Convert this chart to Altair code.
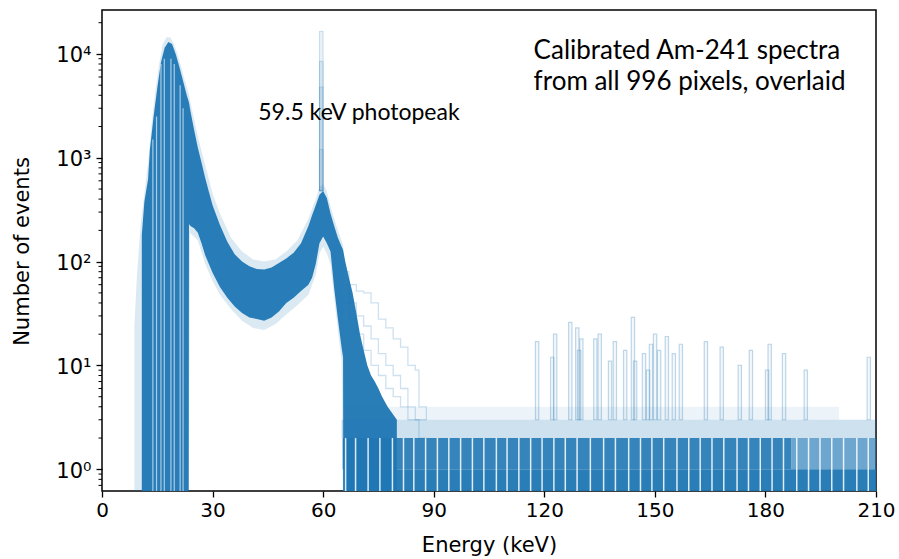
import altair as alt
import pandas as pd

FLOOR = 0.1  # an empty bin (zero counts): below the axis floor, clipped away

# ---------- dense core of the 996 overlaid spectra (keV, counts) ----------
core_E = [10.8, 11.5, 12.5, 13.0, 14.0, 15.0, 16.0, 17.0, 18.0, 19.0,
          20.0, 21.0, 22.0, 23.0, 23.5, 23.6, 24, 25, 26, 27,
          28, 29, 30, 32, 34, 36, 38, 40, 42, 44,
          46, 48, 50, 52, 54, 56, 57, 58, 59, 60,
          61, 62, 63, 64, 65, 65.4, 65.5, 66, 67, 68,
          69, 70, 71, 72, 73, 74, 75, 76, 77.5, 80]
core_hi = [180, 380, 620, 1200, 2500, 4700, 8300, 11500, 13000, 12500,
           10000, 7500, 5500, 4000, 3500, 3400, 2800, 1850, 1250, 900,
           640, 470, 350, 225, 155, 118, 100, 90, 85, 84,
           88, 97, 107, 122, 150, 220, 280, 350, 440, 480,
           410, 290, 220, 170, 140, 130, 125, 100, 70, 50,
           32, 20, 14, 10, 8, 7, 6, 5, 4, 3]
core_lo = [FLOOR] * 15 + [230, 220, 210, 190, 150,
           115, 95, 78, 57, 45, 37, 32, 29, 28, 27,
           29, 33, 40, 45, 52, 60, 70, 95, 150, 175,
           150, 125, 55, 28, 15, 12] + [FLOOR] * 14

# ---------- faint outer envelope (most deviant pixels) ----------
pale_E = [8.8, 9.5, 10.5, 11.5, 12.5, 13.5, 14.5, 15.5, 16.5, 17.5,
          18.5, 19.5, 20.5, 21.5, 22.5, 23.5, 23.9, 24.5, 26, 28,
          30, 32, 35, 38, 41, 44, 47, 50, 53, 56,
          58, 59, 60, 61, 62, 63, 64, 65, 65.5]
pale_hi = [25, 75, 230, 450, 900, 2200, 4500, 8000, 12500, 14500,
           14500, 12500, 10000, 7500, 5500, 4200, 3600, 2800, 1600, 850,
           450, 290, 170, 125, 105, 100, 105, 125, 160, 260,
           400, 520, 560, 480, 340, 260, 200, 160, 140]
pale_lo = [FLOOR] * 16 + [190, 180, 160, 95,
           65, 48, 35, 27, 23, 22, 25, 31, 38, 48,
           75, 120, 140, 120, 95, 45, 22, 11, FLOOR]

# ---------- faint individual tails beyond the photopeak ----------
tail_E = [65.5, 67, 69, 71, 73, 75, 77, 79, 81, 83, 85, 86, 88]
tail_a = [80, 60, 52, 50, 40, 28, 23, 18, 15, 10, 9, 4, 3]
tail_b = [60, 40, 30, 24, 18, 13, 10, 8, 6, 4, 3, 3, 3]
tail_c = [40, 28, 20, 14, 10, 8, 6, 5, 4, 3, 3, 2, 2]

# ---------- counting floor above 65 keV: bands of 0-1, 1-2, 2-3, 3-4 counts ----------
floor_E0 = [65.5, 65.3, 187, 65, 66]
floor_E1 = [210, 187, 210, 210, 200]
floor_lo = [FLOOR, 1, 1, 2, 3]
floor_hi = [1, 2, 2, 3, 4]
floor_opacity = [0.95, 0.9, 0.65, 0.22, 0.08]   # style of each band

# ---------- isolated high-energy outlier bins ----------
spike_E = [117.6, 121.7, 122.5, 126.6, 128.5, 129.0, 129.6, 133.4, 134.6, 137.4,
           138.7, 141.5, 143.6, 144.2, 146.6, 147.7, 148.5, 149.6, 150.7, 152.8,
           154.7, 156.6, 163.4, 167.7, 172.6, 175.6, 180.0, 180.7, 184.6, 190.5,
           207.6]
spike_n = [17, 12, 20, 26, 23, 14, 18, 18, 20, 11,
           17, 14, 29, 11, 13, 9, 16, 20, 14, 19,
           13, 16, 17, 15, 10, 14, 9, 16, 13, 9,
           12]

# ---------- narrow 59.5 keV photopeak bins of a few pixels ----------
peak_E = [59.0, 59.0, 59.0, 59.0]
peak_n = [16500, 8500, 4800, 1200]

# ---------- white gaps between bins ----------
gap_E = [66.1, 68.8, 72.2, 75.4, 78.8, 81.8, 84.6, 87.8, 91.0, 94.1, 97.3, 100.5,
         103.6, 107.0, 109.9, 113.1, 116.3, 119.4, 122.6, 125.7, 128.9, 132.5,
         136.1, 139.3, 142.9, 146.1, 149.2, 152.4, 156.0, 159.2, 162.3, 165.5,
         168.7, 172.3, 175.4, 178.6, 181.8, 184.9, 188.5, 191.7, 194.8, 198.0,
         201.2, 204.8, 207.9]
gapL_E = [13.8, 14.8, 16.0, 16.9, 18.7, 19.6, 21.2, 22.0]
gapL_top = [1500, 2500, 8000, 9000, 9000, 8000, 5000, 3000]

BLUE = "#1f77b4"
BIN = 0.9
y_major = [1, 10, 100, 1000, 10000]
y_minor = [m * 10.0 ** k for k in range(-1, 5) for m in range(2, 10)]
y_minor = [v for v in y_minor if 0.618 <= v <= 26500]

XS = alt.Scale(domain=[0, 210], nice=False, zero=False)
YS = alt.Scale(type="log", domain=[0.618, 26500], nice=False)

XAXIS = alt.Axis(
    title="Energy (keV)", values=[0, 30, 60, 90, 120, 150, 180, 210], grid=False,
    domain=False, tickSize=6, tickWidth=1.3, tickColor="black",
    labelFont="DejaVu Sans", labelFontSize=20, labelColor="black", labelPadding=3,
    labelFlush=False, titleFont="DejaVu Sans", titleFontSize=21,
    titleFontWeight="normal", titleColor="black", titleY=60,
    titleBaseline="alphabetic")
YAXIS = alt.Axis(
    title="Number of events", values=y_major, grid=False, domain=False,
    tickSize=6, tickWidth=1.3, tickColor="black",
    labelExpr="datum.value < 5 ? '10⁰' : datum.value < 50 ? '10¹' : datum.value < 500 ? '10²' : datum.value < 5000 ? '10³' : '10⁴'",
    labelFont="DejaVu Sans", labelFontSize=21, labelColor="black", labelPadding=5,
    labelOffset=2,
    titleFont="DejaVu Sans", titleFontSize=21, titleFontWeight="normal",
    titleColor="black", titleX=-80, titleY=241, titleAngle=270,
    titleAlign="center", titleBaseline="middle")


def X(f):
    return alt.X(f, type="quantitative", scale=XS, axis=XAXIS)


def Y(f):
    return alt.Y(f, type="quantitative", scale=YS, axis=YAXIS)


core = pd.DataFrame({"E": core_E, "hi": core_hi, "lo": core_lo})
pale = pd.DataFrame({"E": pale_E, "hi": pale_hi, "lo": pale_lo})
tails = pd.concat([
    pd.DataFrame({"E": tail_E, "n": tail_a, "s": "a"}),
    pd.DataFrame({"E": tail_E, "n": tail_b, "s": "b"}),
    pd.DataFrame({"E": tail_E, "n": tail_c, "s": "c"}),
])
spikes = pd.DataFrame({"E": spike_E, "n": spike_n})
spikes["E1"] = spikes["E"] + BIN
spikes["base"] = 3
peaks = pd.DataFrame({"E": peak_E, "n": peak_n})
peaks["E1"] = peaks["E"] + 1.0
peaks["base"] = 480
gaps = pd.DataFrame({"E": gap_E, "lo": FLOOR, "hi": 2})
gapsL = pd.DataFrame({"E": gapL_E, "lo": FLOOR, "hi": gapL_top})
minor = pd.DataFrame({"v": y_minor})

layers = []
layers.append(alt.Chart(pale).mark_area(color=BLUE, opacity=0.16, clip=True).encode(
    x=X("E"), y=Y("hi"), y2="lo"))
layers.append(alt.Chart(core).mark_area(color=BLUE, opacity=0.95, clip=True).encode(
    x=X("E"), y=Y("hi"), y2="lo"))
for e0, e1, lo, hi, op in zip(floor_E0, floor_E1, floor_lo, floor_hi, floor_opacity):
    df = pd.DataFrame({"E0": [e0], "E1": [e1], "lo": [lo], "hi": [hi]})
    layers.append(alt.Chart(df).mark_rect(color=BLUE, opacity=op, clip=True).encode(
        x=X("E0"), x2="E1", y=Y("hi"), y2="lo"))
layers.append(alt.Chart(tails).mark_line(color=BLUE, opacity=0.22, strokeWidth=1.3,
                                          interpolate="step-after", clip=True).encode(
    x=X("E"), y=Y("n"), detail="s:N"))
layers.append(alt.Chart(spikes).mark_rect(fill=BLUE, fillOpacity=0.05, stroke=BLUE,
                                           strokeOpacity=0.28, strokeWidth=1.2, clip=True).encode(
    x=X("E"), x2="E1", y=Y("n"), y2="base"))
layers.append(alt.Chart(peaks).mark_rect(fill=BLUE, fillOpacity=0.1, stroke=BLUE,
                                          strokeOpacity=0.2, strokeWidth=1, clip=True).encode(
    x=X("E"), x2="E1", y=Y("n"), y2="base"))
layers.append(alt.Chart(gaps).mark_rule(color="white", opacity=0.85, strokeWidth=1.5, clip=True).encode(
    x=X("E"), y=Y("hi"), y2="lo"))
layers.append(alt.Chart(gapsL).mark_rule(color="white", opacity=0.6, strokeWidth=1.2, clip=True).encode(
    x=X("E"), y=Y("hi"), y2="lo"))
layers.append(alt.Chart(minor).mark_rule(color="black", strokeWidth=1).encode(
    y=Y("v"), x=alt.value(-3.5), x2=alt.value(0)))

notes = pd.DataFrame({
    "E": [42.4, 117.1, 117.1],
    "n": [2310, 8950, 4500],
    "t": ["59.5 keV photopeak", "Calibrated Am-241 spectra", "from all 996 pixels, overlaid"],
    "size": ["s", "l", "l"],
})
layers.append(alt.Chart(notes[notes["size"] == "s"]).mark_text(
    font="Lato", fontSize=23, color="black", align="left", baseline="alphabetic").encode(
    x=X("E"), y=Y("n"), text="t"))
layers.append(alt.Chart(notes[notes["size"] == "l"]).mark_text(
    font="Lato", fontSize=26, color="black", align="left", baseline="alphabetic").encode(
    x=X("E"), y=Y("n"), text="t"))

chart = alt.layer(*layers).properties(
    width=774, height=481,
    autosize=alt.AutoSizeParams(type="none"),
    padding={"left": 102, "top": 10, "right": 23, "bottom": 68},
    background="white",
).configure_view(stroke="black", strokeWidth=1.5)

chart.save("out.html", embed_options={"renderer": "svg", "actions": False})
